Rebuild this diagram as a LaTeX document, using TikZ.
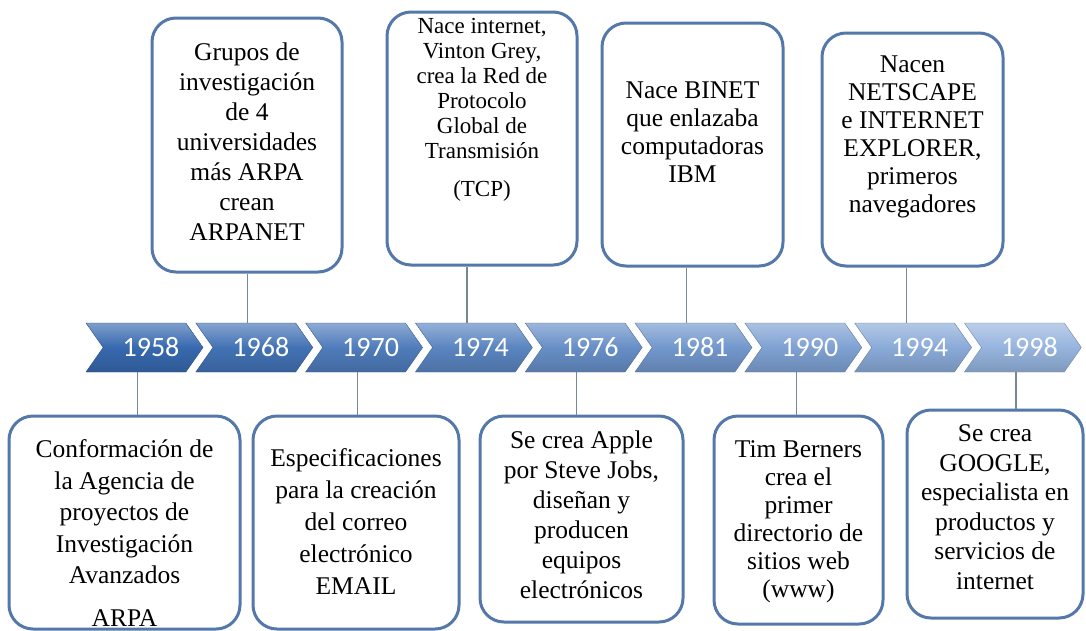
\documentclass[tikz,border=0pt]{standalone}
\usepackage{fontspec}
\setmainfont{Liberation Serif}
\newfontfamily\cifras{Carlito}
\usetikzlibrary{shapes, positioning}
\definecolor{borde}{RGB}{84,120,170}
\definecolor{azulA}{RGB}{55,105,175}
\definecolor{azulB}{RGB}{150,180,222}
\definecolor{gris}{RGB}{120,135,150}
\tikzstyle{caja} = [draw=borde, line width=3pt, rounded corners=24pt, fill=white, inner sep=0pt]
\tikzstyle{texto} = [align=center, inner sep=0pt, font=\fontsize{25.5}{30}\selectfont]
\tikzstyle{flecha} = [signal, signal to=east, signal from=west, signal pointer angle=110, minimum width=117pt, minimum height=49pt, inner sep=0pt, text=white, font=\cifras\fontsize{28}{30}\selectfont]
\tikzstyle{linea} = [draw=gris, line width=1.2pt]

\begin{document}
\begin{tikzpicture}[x=1pt, y=-1pt]
	\useasboundingbox (0,0) rectangle (1086,630);
	% linea de tiempo
	\foreach \anio [count=\i from 0] in {1958,1968,1970,1974,1976,1981,1990,1994,1998}{
		\pgfmathtruncatemacro\p{100*\i/8}
		\colorlet{base}{azulB!\p!azulA}
		\node[flecha, top color=base!65!white, bottom color=base!85!black, middle color=base, draw=base!75!black] (c\anio) at ({144.5+109.8*\i},347.5) {\hspace*{13pt}\anio};
	}
	% cajas de arriba
	\node[caja, minimum width=190pt, minimum height=254pt] (t1968) at (247,145) {};
	\node[texto] (x1968) at (247,142) {Grupos de\\investigación\\de 4\\universidades\\más ARPA\\crean\\ARPANET};
	\node[caja, minimum width=190pt, minimum height=253pt] (t1974) at (482,138.5) {};
	\node[texto, font=\fontsize{23}{25}\selectfont] (x1974) at (482,110) {Nace internet,\\Vinton Grey,\\crea la Red de\\Protocolo\\Global de\\Transmisión\\[13pt](TCP)};
	\node[caja, minimum width=181pt, minimum height=243pt] (t1981) at (692.5,144.5) {};
	\node[texto, font=\fontsize{25.5}{28}\selectfont] (x1981) at (692.5,132) {Nace BINET\\que enlazaba\\computadoras\\IBM};
	\node[caja, minimum width=181pt, minimum height=233pt] (t1994) at (912.5,149.5) {};
	\node[texto, font=\fontsize{25.5}{28}\selectfont] (x1994) at (912.5,137) {Nacen\\NETSCAPE\\e INTERNET\\EXPLORER,\\primeros\\navegadores};
	% cajas de abajo
	\node[caja, minimum width=231pt, minimum height=213pt] (b1958) at (124.5,522.5) {};
	\node[texto, font=\fontsize{25.5}{31.5}\selectfont] (x1958) at (124.5,533) {Conformación de\\la Agencia de\\proyectos de\\Investigación\\Avanzados\\[11pt]ARPA};
	\node[caja, minimum width=206pt, minimum height=213pt] (b1970) at (356,522.5) {};
	\node[texto, font=\fontsize{25.5}{32}\selectfont] (x1970) at (356,522) {Especificaciones\\para la creación\\del correo\\electrónico\\EMAIL};
	\node[caja, minimum width=203pt, minimum height=206pt] (b1976) at (581.5,519) {};
	\node[texto] (x1976) at (581.5,515) {Se crea Apple\\por Steve Jobs,\\diseñan y\\producen\\equipos\\electrónicos};
	\node[caja, minimum width=169pt, minimum height=208pt] (b1990) at (798.5,520) {};
	\node[texto, font=\fontsize{25.5}{28}\selectfont] (x1990) at (798.5,522) {Tim Berners\\crea el\\primer\\directorio de\\sitios web\\(www)};
	\node[caja, minimum width=176pt, minimum height=208pt] (b1998) at (995,514) {};
	\node[texto, font=\fontsize{25.5}{29.5}\selectfont] (x1998) at (995,507) {Se crea\\GOOGLE,\\especialista en\\productos y\\servicios de\\internet};
	% conectores
	\draw[linea] ([xshift=-7pt]c1958.south) -- ([xshift=-7pt]c1958.south |- b1958.north);
	\draw[linea] ([xshift=-7pt]c1968.north) -- ([xshift=-7pt]c1968.north |- t1968.south);
	\draw[linea] ([xshift=-7pt]c1970.south) -- ([xshift=-7pt]c1970.south |- b1970.north);
	\draw[linea] ([xshift=-7pt]c1974.north) -- ([xshift=-7pt]c1974.north |- t1974.south);
	\draw[linea] ([xshift=-7pt]c1976.south) -- ([xshift=-7pt]c1976.south |- b1976.north);
	\draw[linea] ([xshift=-7pt]c1981.north) -- ([xshift=-7pt]c1981.north |- t1981.south);
	\draw[linea] ([xshift=-7pt]c1990.south) -- ([xshift=-7pt]c1990.south |- b1990.north);
	\draw[linea] ([xshift=-7pt]c1994.north) -- ([xshift=-7pt]c1994.north |- t1994.south);
	\draw[linea] ([xshift=-7pt]c1998.south) -- ([xshift=-7pt]c1998.south |- b1998.north);
\end{tikzpicture}
\end{document}
